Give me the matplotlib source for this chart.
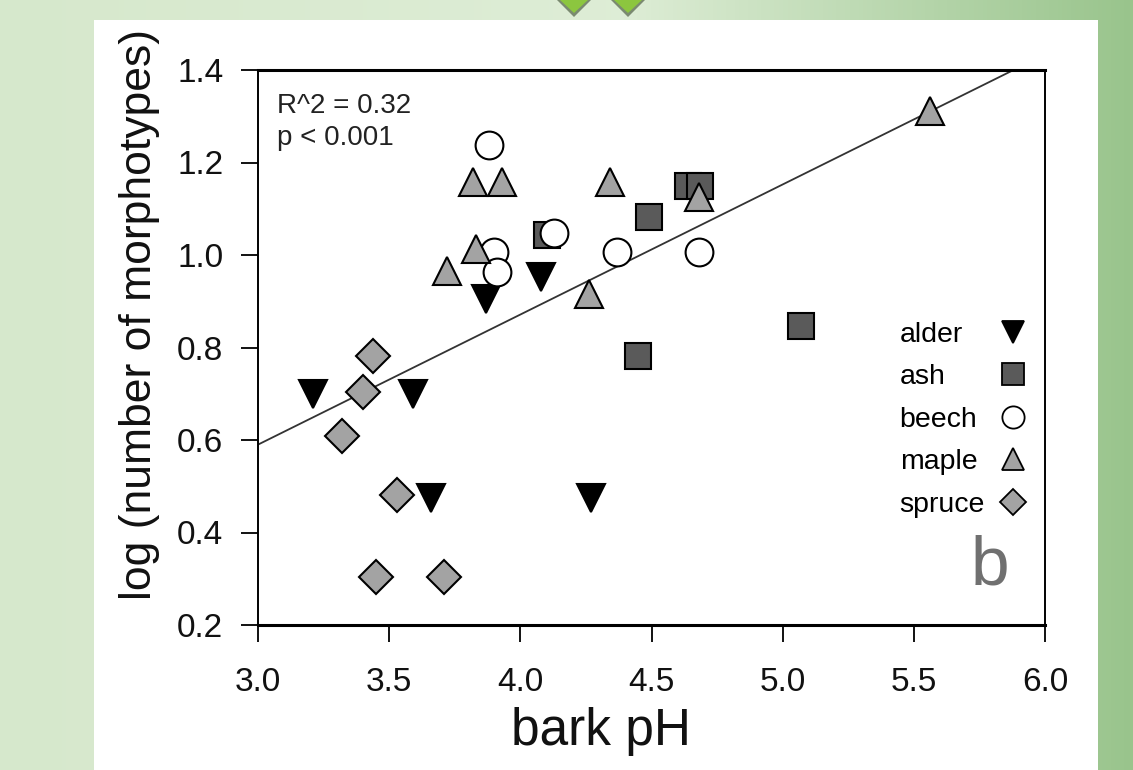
import numpy as np
import matplotlib
matplotlib.use("Agg")
import matplotlib.pyplot as plt
from matplotlib.lines import Line2D
from matplotlib.patches import Rectangle, Polygon

plt.rcParams['font.family'] = ['Liberation Sans', 'DejaVu Sans']

# bark pH / log(number of morphotypes) per tree species
alder_x = [3.21, 3.59, 3.66, 3.87, 4.08, 4.27]
alder_y = [0.70, 0.70, 0.475, 0.905, 0.953, 0.475]

ash_x = [4.10, 4.49, 4.45, 4.64, 4.685, 5.07]
ash_y = [1.044, 1.083, 0.782, 1.15, 1.15, 0.847]

beech_x = [3.88, 3.90, 3.91, 4.13, 4.37, 4.68]
beech_y = [1.237, 1.007, 0.964, 1.048, 1.007, 1.007]

maple_x = [3.82, 3.93, 3.83, 3.72, 4.26, 4.34, 4.68, 5.56]
maple_y = [1.157, 1.157, 1.012, 0.966, 0.916, 1.157, 1.125, 1.311]

spruce_x = [3.44, 3.40, 3.32, 3.53, 3.45, 3.71]
spruce_y = [0.782, 0.703, 0.608, 0.482, 0.304, 0.304]

# regression line end points
fit_x = [3.0, 5.88]
fit_y = [0.59, 1.40]

species = ['alder', 'ash', 'beech', 'maple', 'spruce']
xs = [alder_x, ash_x, beech_x, maple_x, spruce_x]
ys = [alder_y, ash_y, beech_y, maple_y, spruce_y]
markers = ['v', 's', 'o', '^', 'D']
fills = ['#000000', '#5a5a5a', '#ffffff', '#a3a3a3', '#a3a3a3']
msizes = [20, 19, 20, 20, 17]

W, H = 1133, 770
fig = plt.figure(figsize=(W / 100, H / 100), dpi=100)

# green gradient background
bg = fig.add_axes([0, 0, 1, 1], zorder=-10)
gx = np.linspace(0, 1, 256)
left_c = np.array([0.84, 0.91, 0.80])
right_c = np.array([0.60, 0.77, 0.55])
mid_c = np.array([0.87, 0.93, 0.84])
cols = np.where(gx[:, None] < 0.55,
                left_c + (mid_c - left_c) * (gx[:, None] / 0.55),
                mid_c + (right_c - mid_c) * ((gx[:, None] - 0.55) / 0.45))
bg.imshow(cols[None, :, :], aspect='auto', extent=[0, 1, 0, 1])
bg.set_xlim(0, 1)
bg.set_ylim(0, 1)
bg.axis('off')

# white panel
fig.patches.append(Rectangle((94 / W, 0), (1098 - 94) / W, (H - 20) / H,
                             transform=fig.transFigure, facecolor='white',
                             edgecolor='none', zorder=-5))
# little green arrows at the top
for cx in [574, 628]:
    shadow = [((cx - 17) / W, 1.0), ((cx + 17) / W, 1.0), (cx / W, 1 - 17 / H)]
    fig.patches.append(Polygon(shadow, closed=True, transform=fig.transFigure,
                               facecolor='#7a8a70', edgecolor='none', zorder=-4))
    pts = [((cx - 14) / W, 1.0), ((cx + 14) / W, 1.0), (cx / W, 1 - 13 / H)]
    fig.patches.append(Polygon(pts, closed=True, transform=fig.transFigure,
                               facecolor='#8cc63f', edgecolor='none', zorder=-3))

ax = fig.add_axes([258 / W, 1 - 625 / H, (1045 - 258) / W, (625 - 70) / H])
ax.set_facecolor('none')

ax.plot(fit_x, fit_y, color='#333333', linewidth=1.3, zorder=2)

for i in range(len(species)):
    ax.plot(xs[i], ys[i], linestyle='none', marker=markers[i], markersize=msizes[i],
            markerfacecolor=fills[i], markeredgecolor='black', markeredgewidth=1.5,
            zorder=3 + i)

ax.set_xlim(3.0, 6.0)
ax.set_ylim(0.2, 1.4)
ax.set_xticks([3.0, 3.5, 4.0, 4.5, 5.0, 5.5, 6.0])
ax.set_yticks([0.2, 0.4, 0.6, 0.8, 1.0, 1.2, 1.4])
ax.xaxis.set_major_formatter(matplotlib.ticker.FormatStrFormatter('%.1f'))
ax.yaxis.set_major_formatter(matplotlib.ticker.FormatStrFormatter('%.1f'))
ax.tick_params(direction='out', length=12, width=1.4, labelsize=24,
               colors='#111111')
ax.tick_params(axis='x', pad=18)
ax.tick_params(axis='y', pad=13)
for s in ['top', 'bottom']:
    ax.spines[s].set_linewidth(2.2)
for s in ['left', 'right']:
    ax.spines[s].set_linewidth(1.4)

ax.set_xlabel('bark pH', fontsize=37, color='#111111')
ax.xaxis.set_label_coords(0.436, -0.148)
ax.set_ylabel('log (number of morphotypes)', fontsize=32, color='#111111')
ax.yaxis.set_label_coords(-0.124, 0.56)

ax.text(0.024, 0.935, 'R^2 = 0.32', transform=ax.transAxes, fontsize=20,
        va='center', ha='left', color='#222222')
ax.text(0.024, 0.877, 'p < 0.001', transform=ax.transAxes, fontsize=20,
        va='center', ha='left', color='#222222')

# legend: names left-aligned, symbols in their own column on the right
name_handles = [Line2D([], [], linestyle='none') for _ in species]
leg_names = ax.legend(name_handles, species, loc='center left',
                      bbox_to_anchor=(0.79, 0.37), frameon=False, fontsize=20.5,
                      labelspacing=0.58, handlelength=0, handletextpad=0,
                      borderpad=0.2)
ax.add_artist(leg_names)
sym_handles = [Line2D([], [], linestyle='none', marker=markers[i], markersize=msizes[i] * 0.8,
                      markerfacecolor=fills[i], markeredgecolor='black',
                      markeredgewidth=1.3) for i in range(len(species))]
ax.legend(sym_handles, [''] * len(species), loc='center',
          bbox_to_anchor=(0.959, 0.37), frameon=False, fontsize=20.5,
          labelspacing=0.58, handlelength=1.0, handletextpad=0, borderpad=0.2)

ax.text(0.955, 0.047, 'b', transform=ax.transAxes, fontsize=50, color='#707070',
        ha='right', va='bottom')

fig.savefig('out.png', dpi=100)
